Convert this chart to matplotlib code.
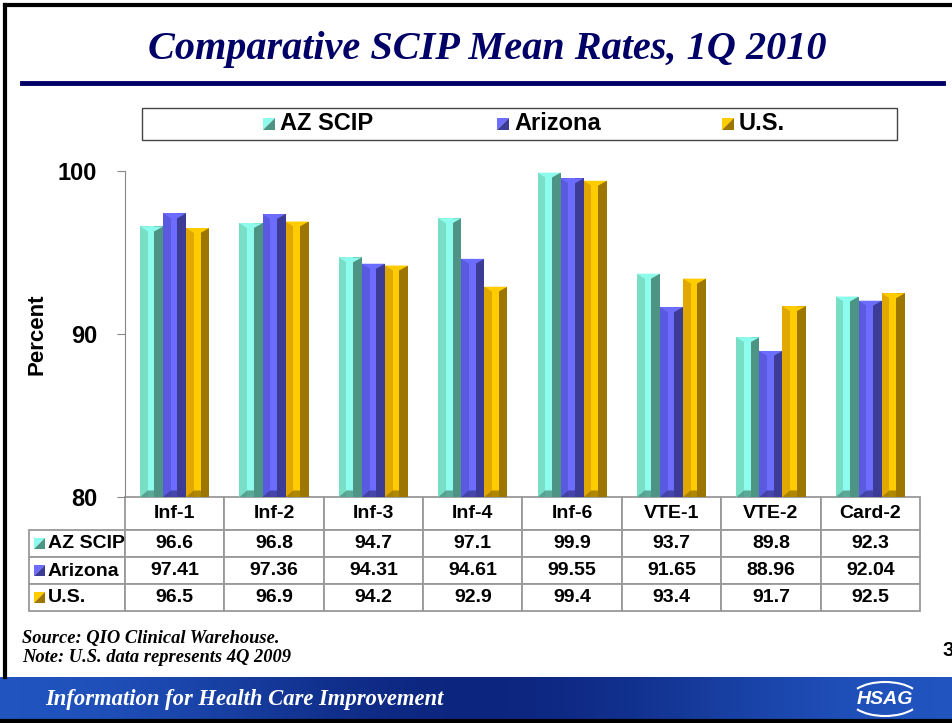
import numpy as np
import matplotlib.pyplot as plt
from matplotlib.patches import Rectangle, Polygon, Arc

categories = ['Inf-1', 'Inf-2', 'Inf-3', 'Inf-4', 'Inf-6', 'VTE-1', 'VTE-2', 'Card-2']
series_names = ['AZ SCIP', 'Arizona', 'U.S.']
az_scip = [96.6, 96.8, 94.7, 97.1, 99.9, 93.7, 89.8, 92.3]
arizona = [97.41, 97.36, 94.31, 94.61, 99.55, 91.65, 88.96, 92.04]
us = [96.5, 96.9, 94.2, 92.9, 99.4, 93.4, 91.7, 92.5]
y_ticks = [80, 90, 100]

# main / highlight / shadow colours for the bevelled bars
palette = [('#78dec6', '#8efcec', '#4e9484'),
           ('#5a5ae0', '#6c6cff', '#3c3c96'),
           ('#e0a800', '#ffcc00', '#9c7600')]

W, H = 953, 723
SANS = 'Liberation Sans'
SERIF = 'Liberation Serif'


def fx(x):
    return x / W


def fy(y):
    return 1 - y / H


fig = plt.figure(figsize=(9.53, 7.23), dpi=100)

# slide frame and title
fig.add_artist(plt.Line2D([fx(5), fx(5)], [fy(5), fy(677)], color='black', lw=3))
fig.add_artist(plt.Line2D([fx(5), fx(953)], [fy(5), fy(5)], color='black', lw=3))
fig.text(fx(487), fy(50), 'Comparative SCIP Mean Rates, 1Q 2010', ha='center', va='center',
         family=SERIF, style='italic', weight='bold', size=29, color='#000066')
fig.add_artist(plt.Line2D([fx(22), fx(943)], [fy(83), fy(83)], color='#000066', lw=3.5))

# legend box
fig.add_artist(Rectangle((fx(142), fy(140)), fx(897 - 142), 32 / H, transform=fig.transFigure,
                         facecolor='white', edgecolor='#444444', lw=1))


def split_square(x, y, cols, size=11):
    # little marker split along the diagonal, like the original swatches
    main, light, dark = cols
    fig.add_artist(Polygon([(fx(x), fy(y)), (fx(x + size), fy(y)), (fx(x), fy(y + size))],
                           closed=True, transform=fig.transFigure, facecolor=light, edgecolor='none'))
    fig.add_artist(Polygon([(fx(x + size), fy(y)), (fx(x + size), fy(y + size)), (fx(x), fy(y + size))],
                           closed=True, transform=fig.transFigure, facecolor=dark, edgecolor='none'))


for name, cols, mx in zip(series_names, palette, [263, 497, 722]):
    split_square(mx, 118, cols, 12)
    fig.text(fx(mx + 17), fy(124), name, ha='left', va='center', family=SANS,
             weight='bold', size=17)

# chart area
ax = fig.add_axes([fx(125), fy(497), fx(920 - 125), 326 / H])
x = np.arange(len(categories))
w = 0.232
for k, (vals, cols) in enumerate(zip([az_scip, arizona, us], palette)):
    main, light, dark = cols
    vals = np.array(vals)
    left = x + (k - 1.5) * w
    ax.bar(left, vals - 80, w, bottom=80, align='edge', color=main, lw=0)
    ax.bar(left + 0.33 * w, vals - 80, 0.29 * w, bottom=80, align='edge', color=light, lw=0)
    ax.bar(left + 0.62 * w, vals - 80, 0.38 * w, bottom=80, align='edge', color=dark, lw=0)
    for l, v in zip(left, vals):
        ax.fill([l, l + w, l + 0.62 * w, l + 0.33 * w], [v, v, v - 0.3, v - 0.3],
                color=light, lw=0)
        ax.fill([l, l + w, l + 0.62 * w, l + 0.33 * w], [80, 80, 80.4, 80.4],
                color=dark, lw=0, alpha=0.8)

ax.set_xlim(-0.5, len(categories) - 0.5)
ax.set_ylim(80, 100)
ax.set_yticks(y_ticks)
ax.set_yticklabels([str(t) for t in y_ticks], family=SANS, weight='bold', size=17)
ax.tick_params(axis='y', length=6, color='#888888', pad=14)
ax.set_xticks([])
for s in ['top', 'right', 'bottom']:
    ax.spines[s].set_visible(False)
ax.spines['left'].set_color('#888888')
ax.set_ylabel('Percent', family=SANS, weight='bold', size=16)
ax.yaxis.set_label_coords(-0.097, 0.5)

# data table under the bars
rows = [[''] + categories,
        [''] + [f'{v:.1f}' for v in az_scip],
        [''] + [f'{v:.2f}' for v in arizona],
        [''] + [f'{v:.1f}' for v in us]]
col_w = [96] + [99.4] * len(categories)
tab = ax.table(cellText=rows, colWidths=[c / sum(col_w) for c in col_w], cellLoc='center',
               bbox=[-0.1208, -0.3497, 1.1208, 0.3497])
tab.auto_set_font_size(False)
tab.set_fontsize(14)
for (r, c), cell in tab.get_celld().items():
    cell.set_edgecolor('#999999')
    cell.set_linewidth(1.3)
    cell.set_height(0.33 if r == 0 else 0.27)
    cell.get_text().set_fontweight('bold')
    cell.get_text().set_family(SANS)
tab[0, 0].visible_edges = ''

for name, cols, ry in zip(series_names, palette, [544, 571, 598]):
    split_square(34, ry - 6, cols, 11)
    fig.text(fx(48), fy(ry), name, ha='left', va='center', family=SANS, weight='bold', size=14)

# notes
fig.text(fx(22), fy(639), 'Source: QIO Clinical Warehouse.', family=SERIF, style='italic',
         weight='bold', size=13.3, va='center')
fig.text(fx(22), fy(658), 'Note: U.S. data represents 4Q 2009', family=SERIF, style='italic',
         weight='bold', size=13.3, va='center')
fig.text(fx(943), fy(650), '3', family=SANS, weight='bold', size=15, va='center')

# footer banner
bax = fig.add_axes([0, fy(720), 1, 43 / H])
grad = np.linspace(0, 1, 256)
shade = 0.5 + 0.5 * np.cos(grad * 2 * np.pi)
img = np.zeros((1, 256, 3))
img[0, :, 0] = 0.05 + 0.08 * shade
img[0, :, 1] = 0.15 + 0.18 * shade
img[0, :, 2] = 0.50 + 0.25 * shade
bax.imshow(img, aspect='auto', extent=[0, W, 0, 43])
bax.set_xlim(0, W)
bax.set_ylim(0, 43)
bax.axis('off')
bax.text(45, 21, 'Information for Health Care Improvement', color='white', family=SERIF,
         style='italic', weight='bold', size=16.3, va='center')
bax.text(885, 21, 'HSAG', color='white', family=SANS, style='italic', weight='bold',
         size=14, ha='center', va='center')
bax.add_patch(Arc((885, 21), 70, 34, theta1=20, theta2=160, color='white', lw=1.5))
bax.add_patch(Arc((885, 21), 70, 34, theta1=200, theta2=340, color='white', lw=1.5))
fig.add_artist(plt.Line2D([0, 1], [fy(721), fy(721)], color='black', lw=3))

fig.savefig('out.png', dpi=100)
